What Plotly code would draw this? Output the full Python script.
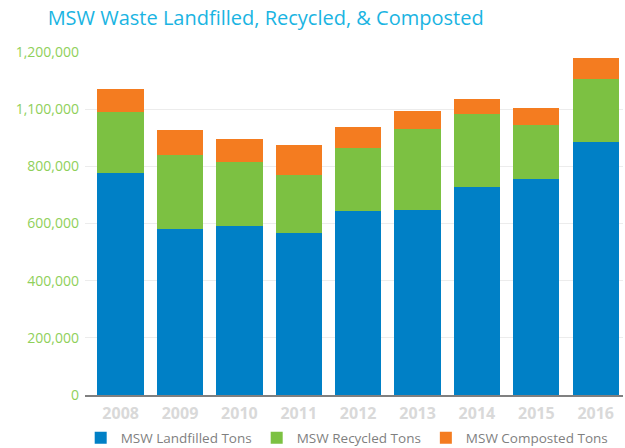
import plotly.graph_objects as go

years = ["2008", "2009", "2010", "2011", "2012", "2013", "2014", "2015", "2016"]
landfilled = [777000, 580000, 590000, 568000, 645000, 648000, 726000, 757000, 886000]
recycled = [212000, 259000, 226000, 200000, 220000, 281000, 256000, 189000, 221000]
composted = [82000, 87000, 81000, 105000, 73000, 65000, 55000, 57000, 71000]

tick_vals = [0, 200000, 400000, 600000, 800000, 1000000, 1200000]
tick_text = ["0", "200,000", "400,000", "600,000", "800,000", "1,100,000", "1,200,000"]

series = [
    ("MSW Landfilled Tons", landfilled, "#0080c6"),
    ("MSW Recycled Tons", recycled, "#7cc142"),
    ("MSW Composted Tons", composted, "#f47c20"),
]

fig = go.Figure()
for name, vals, col in series:
    fig.add_trace(go.Bar(
        x=years, y=vals, name=name,
        marker=dict(color=col, line=dict(width=0)),
    ))

fig.update_layout(
    barmode="stack",
    bargap=0.22,
    width=625, height=448,
    margin=dict(l=85, r=2, t=52, b=53, autoexpand=False),
    paper_bgcolor="white", plot_bgcolor="white",
    title=dict(
        text="MSW Waste Landfilled, Recycled, & Composted",
        x=0.425, xanchor="center", xref="container",
        y=0.96, yanchor="middle", yref="container",
        font=dict(family="Open Sans", size=20, color="#1ab4e2"),
    ),
    font=dict(family="Open Sans"),
    xaxis=dict(
        type="category",
        range=[-0.6, 8.46],
        showline=True, linecolor="#808080", linewidth=2,
        ticks="", showgrid=False,
        tickfont=dict(family="Open Sans", size=16, color="#d9d9d9", weight="bold"),
        ticklabelstandoff=3,
    ),
    yaxis=dict(
        range=[0, 1200000],
        tickvals=tick_vals, ticktext=tick_text,
        showgrid=True, gridcolor="#ececec", gridwidth=1,
        zeroline=False,
        tickfont=dict(family="Open Sans", size=14, color="#8fd05a"),
        ticks="", ticklabelstandoff=5,
    ),
    legend=dict(
        orientation="h",
        x=-0.008, xanchor="left",
        y=-0.08, yanchor="top",
        font=dict(family="Open Sans", size=13.5, color="#7f7f7f"),
        traceorder="normal",
        itemwidth=30,
    ),
    showlegend=True,
)

fig.write_html("out.html", config={"displayModeBar": False},
               post_script="document.body.style.margin='0';")
